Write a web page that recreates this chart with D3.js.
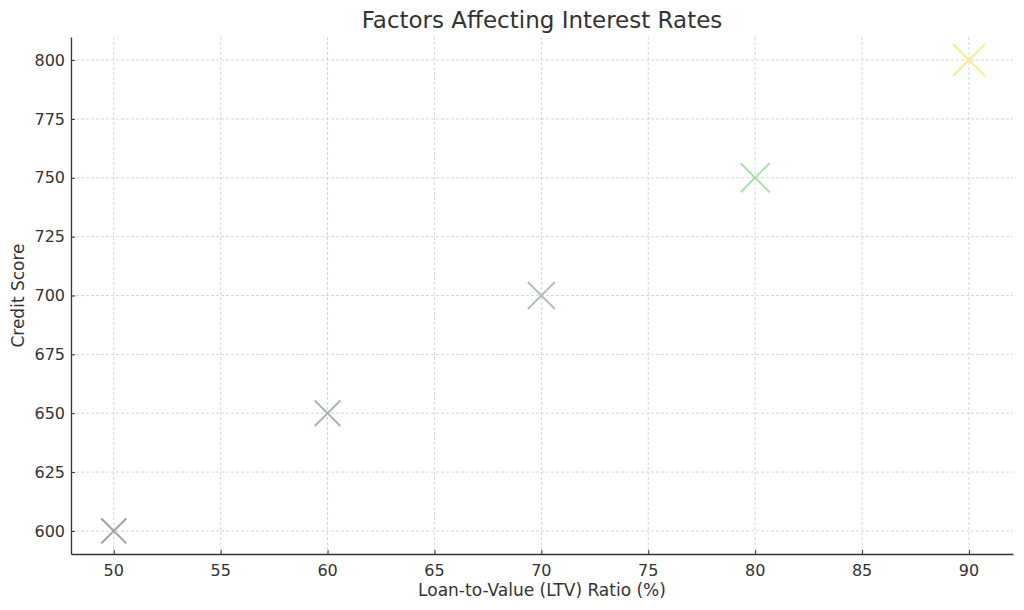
<!DOCTYPE html>
<html>
<head>
<meta charset="utf-8">
<script src="https://cdn.jsdelivr.net/npm/d3@7"></script>
<style>
	body { margin: 0; background: #fff; }
	svg text { font-family: "DejaVu Sans", sans-serif; }
</style>
</head>
<body>
<script>
// data
var ltvRatio = [50, 60, 70, 80, 90];
var creditScore = [600, 650, 700, 750, 800];
var sizeValues = [310, 325, 365, 420, 510];
var xTicks = [50, 55, 60, 65, 70, 75, 80, 85, 90];
var yTicks = [600, 625, 650, 675, 700, 725, 750, 775, 800];
var pointColors = ["#a2a2a2", "#aab6b6", "#b2bfc2", "#a8e0a8", "#f8ee90"];

var w = 1024;
var h = 610;
var margin = { top: 37, right: 11, bottom: 56, left: 71 };

var svg = d3.select("body").append("svg")
	.attr("width", w)
	.attr("height", h);

var x = d3.scaleLinear().domain([48, 92.06]).range([margin.left, w - margin.right]);
var y = d3.scaleLinear().domain([590.2, 809.8]).range([h - margin.bottom, margin.top]);
var size = d3.scaleSqrt().domain([0, 510]).range([0, 32]);

// grid
svg.append("g").selectAll("line")
	.data(xTicks)
	.enter()
	.append("line")
	.attr("x1", function(d) { return x(d); })
	.attr("x2", function(d) { return x(d); })
	.attr("y1", margin.top)
	.attr("y2", h - margin.bottom)
	.attr("stroke", "#cccccc")
	.attr("stroke-width", 0.8)
	.attr("stroke-dasharray", "3,2");

svg.append("g").selectAll("line")
	.data(yTicks)
	.enter()
	.append("line")
	.attr("x1", margin.left)
	.attr("x2", w - margin.right)
	.attr("y1", function(d) { return y(d); })
	.attr("y2", function(d) { return y(d); })
	.attr("stroke", "#cccccc")
	.attr("stroke-width", 0.8)
	.attr("stroke-dasharray", "3,2");

// axes (lines from d3.axis, labels drawn below)
var xAxis = svg.append("g")
	.attr("transform", "translate(0," + (h - margin.bottom) + ")")
	.call(d3.axisBottom(x).tickValues(xTicks).tickFormat("").tickSizeInner(-4).tickSizeOuter(0));

var yAxis = svg.append("g")
	.attr("transform", "translate(" + margin.left + ",0)")
	.call(d3.axisLeft(y).tickValues(yTicks).tickFormat("").tickSizeInner(-4).tickSizeOuter(0));

svg.selectAll(".domain").attr("stroke", "#333333").attr("stroke-width", 1.3);
svg.selectAll(".tick line").attr("stroke", "#333333");

svg.append("g").selectAll("text")
	.data(xTicks)
	.enter()
	.append("text")
	.text(function(d) { return d; })
	.attr("x", function(d) { return x(d); })
	.attr("y", h - margin.bottom + 22)
	.attr("text-anchor", "middle")
	.style("font-size", "16px")
	.attr("fill", "#333333");

svg.append("g").selectAll("text")
	.data(yTicks)
	.enter()
	.append("text")
	.text(function(d) { return d; })
	.attr("x", margin.left - 6)
	.attr("y", function(d) { return y(d); })
	.attr("dy", "0.35em")
	.attr("text-anchor", "end")
	.style("font-size", "16px")
	.attr("fill", "#333333");

// markers
var marks = svg.append("g").selectAll("g")
	.data(ltvRatio)
	.enter()
	.append("g")
	.attr("transform", function(d, i) {
		return "translate(" + x(d) + "," + y(creditScore[i]) + ")";
	});

marks.append("path")
	.attr("d", function(d, i) {
		var r = size(sizeValues[i]) / 2;
		return "M" + (-r) + "," + (-r) + "L" + r + "," + r + "M" + (-r) + "," + r + "L" + r + "," + (-r);
	})
	.attr("stroke", function(d, i) { return pointColors[i]; })
	.attr("stroke-width", 2)
	.attr("fill", "none");

// titles
svg.append("text")
	.text("Factors Affecting Interest Rates")
	.attr("x", (margin.left + w - margin.right) / 2)
	.attr("y", 28)
	.attr("text-anchor", "middle")
	.style("font-size", "23px")
	.attr("fill", "#333333");

svg.append("text")
	.text("Loan-to-Value (LTV) Ratio (%)")
	.attr("x", (margin.left + w - margin.right) / 2)
	.attr("y", 596)
	.attr("text-anchor", "middle")
	.style("font-size", "17px")
	.attr("fill", "#333333");

svg.append("text")
	.text("Credit Score")
	.attr("transform", "translate(24," + ((margin.top + h - margin.bottom) / 2) + ") rotate(-90)")
	.attr("text-anchor", "middle")
	.style("font-size", "17px")
	.attr("fill", "#333333");
</script>
</body>
</html>
